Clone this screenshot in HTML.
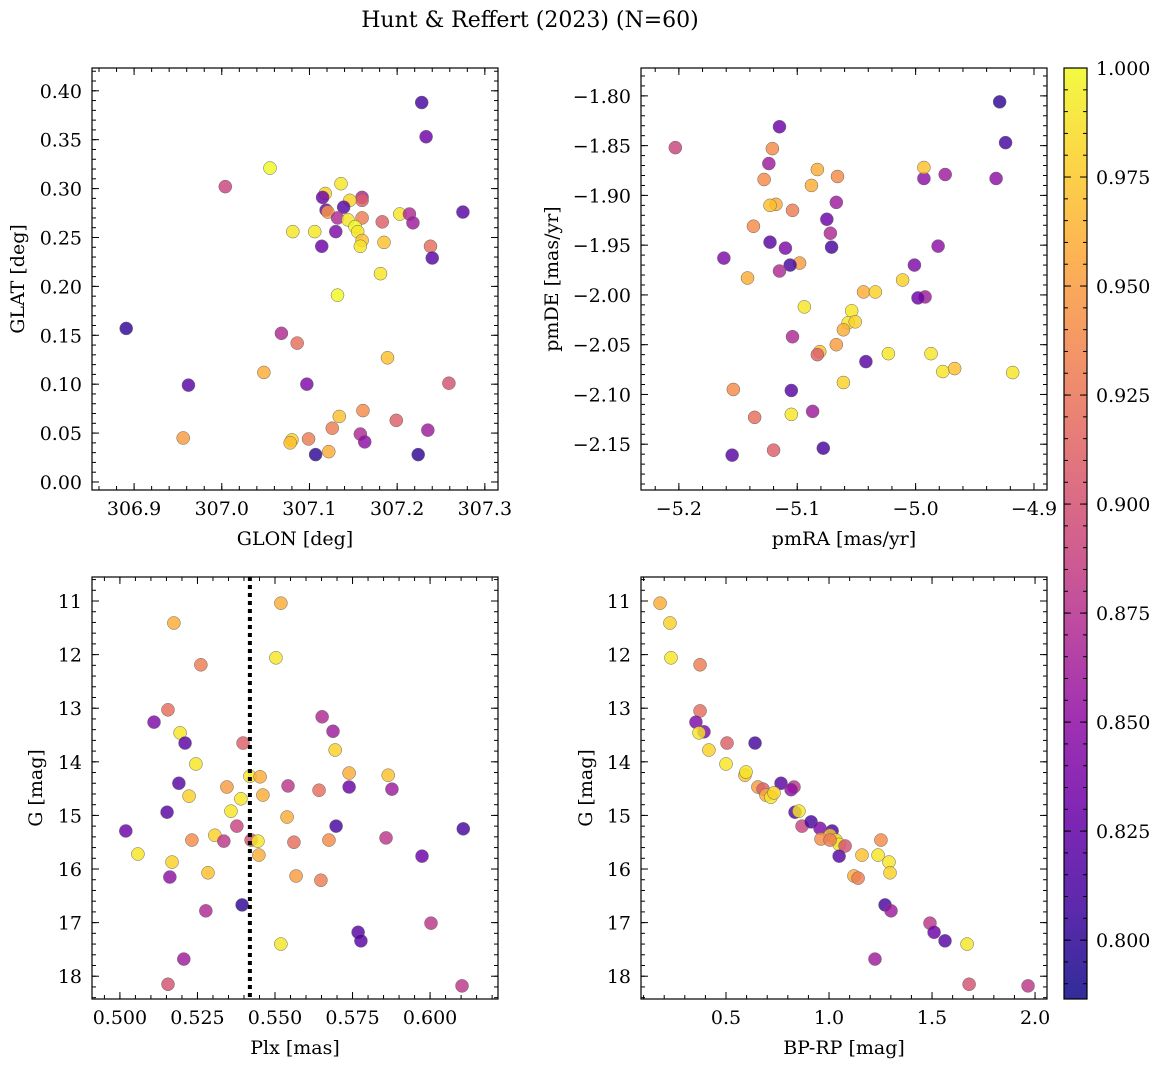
<!DOCTYPE html>
<html><head><meta charset="utf-8">
<style>
html,body{margin:0;padding:0;background:#fff;}
svg{display:block;font-family:"DejaVu Serif","Liberation Serif",serif;}
</style></head>
<body>
<svg id="chart" width="1161" height="1067" viewBox="0 0 1161 1067" xmlns="http://www.w3.org/2000/svg">
<rect width="1161" height="1067" fill="#fff"/>
<text x="530" y="27" font-size="22" text-anchor="middle">Hunt &amp; Reffert (2023) (N=60)</text>
<defs>
<linearGradient id="plasma" x1="0" y1="1" x2="0" y2="0">
</linearGradient>
</defs>
</svg>
<script>
// ---- data ----
const tlGlon=[307.228,307.233,307.004,307.055,307.136,307.118,307.115,307.160,307.160,307.146,307.139,307.119,307.121,307.132,307.144,307.160,307.203,307.214,307.218,307.183,307.152,307.155,307.081,307.106,307.130,307.160,307.158,307.185,307.114,307.238,307.240,307.181,307.132,306.891,307.068,307.086,306.962,307.048,307.097,307.189,307.259,306.956,307.080,307.078,307.099,307.126,307.134,307.161,307.199,307.235,307.158,307.163,307.107,307.122,307.224,307.275];
const tlGlat=[0.388,0.353,0.302,0.321,0.305,0.295,0.291,0.291,0.288,0.288,0.281,0.278,0.276,0.270,0.268,0.270,0.274,0.274,0.265,0.266,0.261,0.256,0.256,0.256,0.256,0.247,0.241,0.245,0.241,0.241,0.229,0.213,0.191,0.157,0.152,0.142,0.099,0.112,0.100,0.127,0.101,0.045,0.043,0.040,0.044,0.055,0.067,0.073,0.063,0.053,0.049,0.041,0.028,0.031,0.028,0.276];
const tlProb=[0.81,0.83,0.89,1.0,0.99,0.98,0.83,0.87,0.91,0.98,0.82,0.83,0.95,0.87,0.99,0.93,0.99,0.87,0.86,0.91,1.0,0.99,0.99,0.99,0.84,0.97,0.99,0.97,0.83,0.92,0.82,0.99,1.0,0.80,0.87,0.92,0.82,0.96,0.84,0.97,0.90,0.95,0.98,0.97,0.93,0.93,0.97,0.94,0.91,0.86,0.87,0.85,0.80,0.96,0.80,0.82];

const trPmra=[-4.929,-4.924,-5.203,-5.115,-5.121,-5.124,-5.083,-5.066,-4.993,-4.932,-4.993,-4.975,-5.128,-5.088,-5.118,-5.123,-5.104,-5.067,-5.075,-5.072,-5.137,-5.123,-5.110,-5.071,-4.981,-5.162,-5.098,-5.106,-5.115,-5.001,-5.142,-5.011,-5.044,-5.034,-4.992,-4.998,-5.094,-5.054,-5.057,-5.051,-5.061,-5.104,-5.067,-5.081,-5.083,-5.023,-4.987,-5.042,-4.977,-4.967,-4.918,-5.061,-5.154,-5.105,-5.087,-5.105,-5.136,-5.120,-5.078,-5.155];
const trPmde=[-1.806,-1.847,-1.852,-1.831,-1.853,-1.868,-1.874,-1.881,-1.883,-1.883,-1.872,-1.879,-1.884,-1.890,-1.909,-1.910,-1.915,-1.907,-1.924,-1.938,-1.931,-1.947,-1.953,-1.952,-1.951,-1.963,-1.968,-1.970,-1.976,-1.970,-1.983,-1.985,-1.997,-1.997,-2.002,-2.003,-2.012,-2.016,-2.028,-2.027,-2.035,-2.042,-2.050,-2.057,-2.060,-2.059,-2.059,-2.067,-2.077,-2.074,-2.078,-2.088,-2.095,-2.096,-2.117,-2.120,-2.123,-2.156,-2.154,-2.161];
const trProb=[0.80,0.81,0.89,0.83,0.94,0.86,0.96,0.94,0.85,0.85,0.97,0.86,0.94,0.96,0.96,0.97,0.93,0.86,0.83,0.87,0.94,0.82,0.84,0.81,0.85,0.84,0.95,0.81,0.87,0.84,0.96,0.98,0.96,0.98,0.86,0.83,0.99,0.99,0.99,0.98,0.96,0.87,0.95,0.97,0.91,0.99,0.99,0.82,0.99,0.97,0.99,0.98,0.94,0.82,0.86,0.99,0.92,0.91,0.81,0.82];

const blPlx=[0.5519,0.5174,0.5503,0.5261,0.5155,0.5110,0.5652,0.5687,0.5194,0.5210,0.5397,0.5694,0.5245,0.5739,0.5419,0.5452,0.5865,0.5190,0.5345,0.5542,0.5642,0.5461,0.5223,0.5390,0.5739,0.5877,0.5152,0.5358,0.5539,0.5377,0.5697,0.5306,0.5019,0.5858,0.5423,0.5232,0.5335,0.5445,0.5561,0.5674,0.6107,0.5058,0.5448,0.5974,0.5168,0.5284,0.5568,0.5161,0.5648,0.5394,0.5277,0.5519,0.5768,0.5777,0.6003,0.5206,0.5155,0.6103];
const blG=[11.04,11.41,12.06,12.19,13.03,13.26,13.16,13.43,13.46,13.65,13.65,13.78,14.04,14.21,14.27,14.28,14.25,14.40,14.47,14.45,14.53,14.62,14.64,14.69,14.47,14.51,14.94,14.92,15.03,15.20,15.20,15.37,15.29,15.42,15.46,15.46,15.48,15.48,15.50,15.46,15.25,15.72,15.74,15.76,15.87,16.07,16.13,16.15,16.21,16.67,16.78,17.40,17.18,17.34,17.01,17.68,18.15,18.18];
const blProb=[0.96,0.96,0.99,0.93,0.92,0.84,0.87,0.86,0.99,0.82,0.91,0.98,0.99,0.96,0.99,0.96,0.97,0.82,0.95,0.88,0.92,0.96,0.98,0.99,0.83,0.86,0.82,0.99,0.96,0.89,0.81,0.98,0.83,0.88,0.90,0.94,0.88,0.99,0.92,0.94,0.81,0.99,0.96,0.83,0.98,0.97,0.95,0.85,0.93,0.80,0.87,0.99,0.82,0.82,0.88,0.86,0.90,0.88];
const plxLine=[0.5419];

const brColor=[0.180,0.228,0.233,0.374,0.374,0.354,0.393,0.369,0.505,0.641,0.417,0.500,0.592,0.597,0.767,0.655,0.680,0.694,0.718,0.733,0.830,0.816,0.835,0.854,0.869,0.913,0.956,1.015,1.005,0.961,1.034,1.049,1.078,1.005,1.049,1.160,1.238,1.252,1.291,1.296,1.121,1.141,1.272,1.301,1.490,1.510,1.563,1.670,1.223,1.680,1.966];
const brG=[11.04,11.41,12.06,12.19,13.05,13.26,13.44,13.46,13.65,13.65,13.78,14.04,14.25,14.19,14.40,14.47,14.51,14.62,14.66,14.58,14.47,14.52,14.94,14.92,15.20,15.12,15.24,15.29,15.37,15.44,15.46,15.54,15.57,15.46,15.76,15.74,15.74,15.46,15.87,16.07,16.13,16.17,16.67,16.78,17.01,17.18,17.34,17.40,17.68,18.15,18.18];
const brProb=[0.96,0.98,0.99,0.93,0.92,0.84,0.84,0.99,0.91,0.81,0.98,0.99,0.97,0.99,0.82,0.95,0.91,0.96,0.99,0.98,0.88,0.85,0.82,0.99,0.89,0.81,0.84,0.81,0.97,0.94,0.98,0.99,0.90,0.93,0.82,0.97,0.99,0.94,0.99,0.98,0.96,0.93,0.81,0.86,0.88,0.83,0.82,0.99,0.86,0.90,0.88];

const cbTicks=[0.800,0.825,0.850,0.875,0.900,0.925,0.950,0.975,1.000];

// ---- rendering ----
const NS="http://www.w3.org/2000/svg";
const svg=document.getElementById('chart');
const FS=19;
function mk(tag,attrs,parent){const e=document.createElementNS(NS,tag);for(const k in attrs)e.setAttribute(k,attrs[k]);(parent||svg).appendChild(e);return e;}
const stops=[[0,'#0d0887'],[0.1,'#41049d'],[0.2,'#6a00a8'],[0.3,'#8f0da4'],[0.4,'#b12a90'],[0.5,'#cc4778'],[0.6,'#e16462'],[0.7,'#f2844b'],[0.8,'#fca636'],[0.9,'#fcce25'],[1,'#f0f921']];
const cmin=0.7865,cmax=1.0;
function hex(h){return [1,3,5].map(i=>parseInt(h.substr(i,2),16));}
function cmap(v){let t=Math.max(0,Math.min(1,(v-cmin)/(cmax-cmin)));for(let i=1;i<stops.length;i++){if(t<=stops[i][0]){const a=stops[i-1],b=stops[i];const f=(t-a[0])/(b[0]-a[0]);const ca=hex(a[1]),cb=hex(b[1]);return 'rgb('+ca.map((c,j)=>Math.round(c+(cb[j]-c)*f)).join(',')+')';}}return stops[stops.length-1][1];}

function panel(o){
  const g=mk('g',{});
  
  
  const sx=v=>o.x0+(v-o.xmin)/(o.xmax-o.xmin)*(o.x1-o.x0);
  const sy=o.yinv?(v=>o.y0+(v-o.ymin)/(o.ymax-o.ymin)*(o.y1-o.y0)):(v=>o.y1-(v-o.ymin)/(o.ymax-o.ymin)*(o.y1-o.y0));
  for(let i=0;i<o.xs.length;i++){
    const c=mk('circle',{cx:sx(o.xs[i]),cy:sy(o.ys[i]),r:6.5,fill:cmap(o.ps[i]),'fill-opacity':0.82,stroke:'#666','stroke-width':0.5},g);
    
    
  }
  if(o.vline){
    const l=mk('line',{x1:sx(o.vline),x2:sx(o.vline),y1:o.y0,y2:o.y1,stroke:'#000','stroke-width':4,'stroke-dasharray':'4,4'},g);
    
    
  }
  const fr=mk('rect',{x:o.x0,y:o.y0,width:o.x1-o.x0,height:o.y1-o.y0,fill:'none',stroke:'#000','stroke-width':1.2},g);
  
  
  const eps=1e-9;
  function ticksX(step){const s=Math.ceil(o.xmin/step-eps);const out=[];for(let k=s;k*step<=o.xmax+eps;k++)out.push(k*step);return out;}
  function ticksY(step){const lo=Math.min(o.ymin,o.ymax),hi=Math.max(o.ymin,o.ymax);const s=Math.ceil(lo/step-eps);const out=[];for(let k=s;k*step<=hi+eps;k++)out.push(k*step);return out;}
  ticksX(o.xminor).forEach(v=>{const x=sx(v);mk('line',{x1:x,x2:x,y1:o.y1,y2:o.y1-4,stroke:'#000'},g);mk('line',{x1:x,x2:x,y1:o.y0,y2:o.y0+4,stroke:'#000'},g);});
  ticksY(o.yminor).forEach(v=>{const y=sy(v);mk('line',{x1:o.x0,x2:o.x0+4,y1:y,y2:y,stroke:'#000'},g);mk('line',{x1:o.x1,x2:o.x1-4,y1:y,y2:y,stroke:'#000'},g);});
  ticksX(o.xmajor).forEach(v=>{const x=sx(v);mk('line',{x1:x,x2:x,y1:o.y1,y2:o.y1-7,stroke:'#000'},g);mk('line',{x1:x,x2:x,y1:o.y0,y2:o.y0+7,stroke:'#000'},g);
    const t=mk('text',{x:x,y:o.y1+25,'font-size':FS,'text-anchor':'middle'},g);t.textContent=o.xfmt(v);
    });
  ticksY(o.ymajor).forEach(v=>{const y=sy(v);mk('line',{x1:o.x0,x2:o.x0+7,y1:y,y2:y,stroke:'#000'},g);mk('line',{x1:o.x1,x2:o.x1-7,y1:y,y2:y,stroke:'#000'},g);
    const t=mk('text',{x:o.x0-10,y:y+7,'font-size':FS,'text-anchor':'end'},g);t.textContent=o.yfmt(v);
    });
  const xt=mk('text',{x:(o.x0+o.x1)/2,y:o.y1+55,'font-size':FS,'text-anchor':'middle'},g);xt.textContent=o.xlabel;
  
  const yt=mk('text',{x:0,y:0,'font-size':FS,'text-anchor':'middle',transform:'translate('+o.ylx+','+((o.y0+o.y1)/2)+') rotate(-90)'},g);yt.textContent=o.ylabel;
  
}
const f=(d)=>v=>(Math.abs(v)<1e-9?0:v).toFixed(d).replace('-','\u2212');
panel({name:'glon-glat-panel',x0:92,x1:498,y0:68,y1:490,xmin:306.852,xmax:307.315,ymin:-0.0082,ymax:0.4233,xs:tlGlon,ys:tlGlat,ps:tlProb,xmajor:0.1,xminor:0.02,ymajor:0.05,yminor:0.01,xfmt:f(1),yfmt:f(2),xlabel:'GLON [deg]',ylabel:'GLAT [deg]',ylx:24});
panel({name:'proper-motion-panel',x0:641,x1:1047,y0:68,y1:490,xmin:-5.232,xmax:-4.889,ymin:-2.196,ymax:-1.772,xs:trPmra,ys:trPmde,ps:trProb,xmajor:0.1,xminor:0.02,ymajor:0.05,yminor:0.01,xfmt:f(1),yfmt:f(2),xlabel:'pmRA [mas/yr]',ylabel:'pmDE [mas/yr]',ylx:558});
panel({name:'parallax-magnitude-panel',x0:92,x1:498,y0:577,y1:999,xmin:0.4910,xmax:0.6219,ymin:10.552,ymax:18.425,yinv:true,xs:blPlx,ys:blG,ps:blProb,xmajor:0.025,xminor:0.005,ymajor:1,yminor:0.2,xfmt:f(3),yfmt:f(0),xlabel:'Plx [mas]',ylabel:'G [mag]',ylx:42,vline:plxLine[0]});
panel({name:'color-magnitude-panel',x0:641,x1:1047,y0:577,y1:999,xmin:0.0874,xmax:2.058,ymin:10.552,ymax:18.425,yinv:true,xs:brColor,ys:brG,ps:brProb,xmajor:0.5,xminor:0.1,ymajor:1,yminor:0.2,xfmt:f(1),yfmt:f(0),xlabel:'BP-RP [mag]',ylabel:'G [mag]',ylx:592});

// colorbar
const grad=document.getElementById('plasma');
stops.forEach(s=>mk('stop',{offset:s[0],'stop-color':s[1]},grad));
const cb=mk('g',{});


const cx0=1064,cx1=1087,cy0=68,cy1=999;
mk('rect',{x:cx0,y:cy0,width:cx1-cx0,height:cy1-cy0,fill:'url(#plasma)','fill-opacity':0.85,stroke:'#000','stroke-width':1.2},cb);
const cy=v=>cy1-(v-cmin)/(cmax-cmin)*(cy1-cy0);
for(let k=Math.ceil(cmin/0.005);k*0.005<=cmax+1e-9;k++){const y=cy(k*0.005);mk('line',{x1:cx1,x2:cx1-4,y1:y,y2:y,stroke:'#000'},cb);mk('line',{x1:cx0,x2:cx0+4,y1:y,y2:y,stroke:'#000'},cb);}
cbTicks.forEach(v=>{const y=cy(v);mk('line',{x1:cx1,x2:cx1-7,y1:y,y2:y,stroke:'#000'},cb);mk('line',{x1:cx0,x2:cx0+7,y1:y,y2:y,stroke:'#000'},cb);
  const t=mk('text',{x:cx1+9,y:y+7,'font-size':FS},cb);t.textContent=v.toFixed(3);
  });
</script>
</body></html>
